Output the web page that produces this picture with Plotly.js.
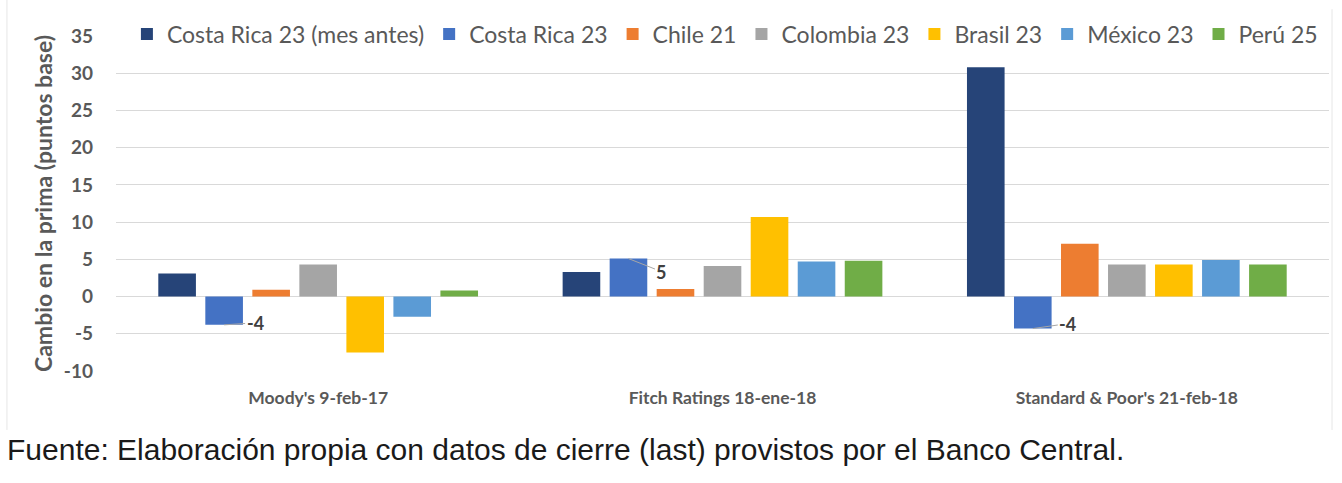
<!DOCTYPE html>
<html>
<head>
<meta charset="utf-8">
<script src="https://cdn.plot.ly/plotly-3.0.1.min.js"></script>
<style>
  html, body { margin: 0; padding: 0; background: #ffffff; }
  #chart { width: 1342px; height: 483px; }
</style>
</head>
<body>
<div id="chart"></div>
<script>
// ---- data ----
const categories = ["Moody's 9-feb-17", "Fitch Ratings 18-ene-18", "Standard & Poor's 21-feb-18"];
const seriesNames = ["Costa Rica 23 (mes antes)", "Costa Rica 23", "Chile 21", "Colombia 23", "Brasil 23", "México 23", "Perú 25"];
const costaRicaMesAntes = [3.1, 3.3, 30.8];
const costaRica23 = [-3.8, 5.1, -4.3];
const chile21 = [0.9, 1.0, 7.1];
const colombia23 = [4.3, 4.1, 4.3];
const brasil23 = [-7.5, 10.7, 4.3];
const mexico23 = [-2.7, 4.7, 4.9];
const peru25 = [0.8, 4.8, 4.3];
const yTicks = [-10, -5, 0, 5, 10, 15, 20, 25, 30, 35];

const seriesValues = [costaRicaMesAntes, costaRica23, chile21, colombia23, brasil23, mexico23, peru25];
const colors = ["#264478", "#4472C4", "#ED7D31", "#A5A5A5", "#FFC000", "#5B9BD5", "#70AD47"];

const bargap = 0.186;
const traces = seriesNames.map((name, i) => ({
  type: 'bar',
  name: name,
  x: categories,
  y: seriesValues[i],
  marker: { color: colors[i] },
  hoverinfo: 'skip'
}));

// data labels for the Costa Rica 23 series (index 1) with leader lines
const labelIdx = 1;
const slot = (1 - bargap) / seriesNames.length;
const offset = -(1 - bargap) / 2 + (labelIdx + 0.5) * slot;
const labelShifts = [[31, -2], [33, 13], [35, -5]];
const annotations = costaRica23.map((v, k) => ({
  x: k + offset, y: v, xref: 'x', yref: 'y',
  text: String(Math.round(v)),
  showarrow: true, arrowhead: 0, arrowwidth: 1, arrowcolor: '#a6a6a6',
  standoff: 0, ax: labelShifts[k][0], ay: labelShifts[k][1],
  font: { family: 'Lato', size: 18, color: '#404040', weight: 'bold' }
}));

annotations.push({
  xref: 'paper', yref: 'paper', x: -0.0915, y: -0.233,
  xanchor: 'left', yanchor: 'middle', showarrow: false,
  text: 'Fuente: Elaboración propia con datos de cierre (last) provistos por el Banco Central.',
  font: { family: 'Liberation Sans', size: 30, color: '#1a1a1a' }
});

const layout = {
  width: 1342, height: 483,
  margin: { l: 116, r: 13, t: 36, b: 112 },
  paper_bgcolor: '#ffffff', plot_bgcolor: '#ffffff',
  barmode: 'group', bargap: bargap, bargroupgap: 0.2,
  showlegend: true,
  legend: {
    orientation: 'h', x: 0.009, xanchor: 'left', y: 1.006, yanchor: 'middle',
    bgcolor: 'rgba(0,0,0,0)', traceorder: 'normal',
    font: { family: 'Lato', size: 23, color: '#595959' }
  },
  xaxis: {
    type: 'category', showgrid: false, zeroline: false, showline: false, ticks: '',
    ticklabelstandoff: 14,
    tickfont: { family: 'Lato', size: 17.5, color: '#595959', weight: 'bold' },
    fixedrange: true
  },
  yaxis: {
    range: [-10, 35], tickvals: yTicks, ticktext: yTicks.map(String),
    showgrid: true, gridcolor: '#d9d9d9', gridwidth: 1,
    zeroline: true, zerolinecolor: '#d9d9d9', zerolinewidth: 1,
    showline: false, ticks: '', ticklabelstandoff: 22,
    tickfont: { family: 'Lato', size: 19, color: '#595959', weight: 'bold' },
    title: { text: 'Cambio en la prima (puntos base)', standoff: 4,
             font: { family: 'Lato', size: 23, color: '#595959', weight: 'bold' } },
    fixedrange: true
  },
  shapes: [
    { type: 'line', xref: 'paper', yref: 'paper', x0: -0.0899, x1: -0.0899, y0: -0.176, y1: 1.11,
      line: { color: '#e6e6e6', width: 1 } },
    { type: 'line', xref: 'paper', yref: 'paper', x0: 1.0025, x1: 1.0025, y0: -0.176, y1: 1.08,
      line: { color: '#e6e6e6', width: 1 } }
  ],
  annotations: annotations
};

Plotly.newPlot('chart', traces, layout, { displayModeBar: false, staticPlot: true });
</script>
</body>
</html>
